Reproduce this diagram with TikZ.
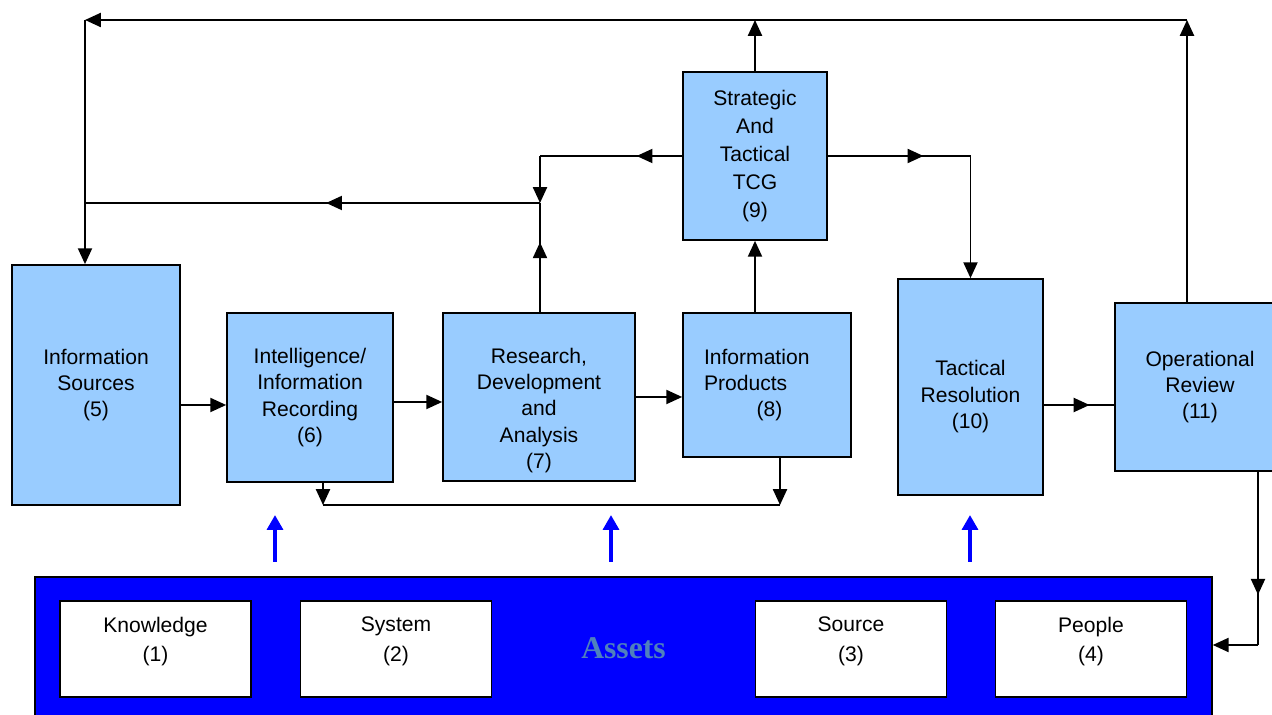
\documentclass[tikz,border=0pt]{standalone}
\usepackage{fontspec}
\setmainfont{Liberation Sans}
\newfontfamily\assetfont{Liberation Serif}
\usetikzlibrary{arrows.meta,decorations.markings}

\definecolor{boxblue}{RGB}{153,204,255}
\definecolor{assetblue}{RGB}{0,0,255}
\definecolor{assettext}{RGB}{79,129,189}

\newcommand{\assetlabel}[2]{\parbox[c][1.92cm][t]{3.8cm}{\centering\vspace*{9pt}#1\\[3pt](#2)}}

\tikzset{
  blk/.style={draw, line width=1pt, fill=boxblue, align=center, inner sep=2pt,
    font=\fontsize{12}{15}\selectfont},
  wbox/.style={draw, line width=1pt, fill=white, inner sep=0pt,
    minimum width=3.82cm, minimum height=1.92cm, font=\fontsize{12}{14}\selectfont},
  conn/.style={line width=1pt},
  arr/.style={line width=1pt, -{Triangle[length=9pt,width=8pt]}},
  mid arrow/.style={line width=1pt, postaction={decorate},
    decoration={markings, mark=at position #1 with {\arrow{Triangle[length=9pt,width=8pt]}}}},
  up arrow/.style={assetblue, line width=2.4pt, -{Triangle[length=8.5pt,width=9pt]}}
}

\begin{document}
\begin{tikzpicture}[x=0.02cm, y=-0.02cm]
  \useasboundingbox (0,0) rectangle (1272,715);

  % process boxes
  \node[blk, minimum width=3.36cm, minimum height=4.8cm] (src) at (96,385) {Information\\Sources\\(5)};
  \node[blk, minimum width=3.32cm, minimum height=3.38cm] (rec) at (310,397.5) {Intelligence/\\Information\\Recording\\(6)};
  \node[blk, minimum width=3.84cm, minimum height=3.36cm, text height=2.95cm] (rda) at (539,397) {Research,\\Development\\and\\Analysis\\(7)};
  \node[blk, minimum width=3.36cm, minimum height=2.88cm, align=left, text width=2.52cm] (prod) at (767,385) {Information\\Products\\\hspace*{1.05cm}(8)};
  \node[blk, minimum width=2.88cm, minimum height=3.36cm, font=\fontsize{12}{16}\selectfont] (tcg) at (755,156) {Strategic\\And\\Tactical\\TCG\\(9)};
  \node[blk, minimum width=2.9cm, minimum height=4.32cm, text height=1.75cm] (res) at (970.5,387) {Tactical\\Resolution\\(10)};
  \node[blk, minimum width=3.4cm, minimum height=3.36cm] (rev) at (1200,387) {Operational\\Review\\(11)};

  % assets bar
  \node[draw, line width=1pt, fill=assetblue, text=assettext, minimum width=23.54cm, minimum height=2.86cm,
    font=\assetfont\bfseries\fontsize{18}{20}\selectfont] (assets) at (623.5,648.5) {Assets};
  \node[wbox] (know) at (155.5,649) {\assetlabel{Knowledge}{1}};
  \node[wbox] (sys) at (396,649) {\assetlabel{System}{2}};
  \node[wbox] (srce) at (851,649) {\assetlabel{Source}{3}};
  \node[wbox] (ppl) at (1091,649) {\assetlabel{People}{4}};

  % corner points
  \coordinate (tr) at (1187,20);
  \coordinate (tl) at (85,20);
  \coordinate (ml) at (85,203);
  \coordinate (jn) at (540,203);
  \coordinate (bl) at (323,505);
  \coordinate (br) at (780,505);
  \coordinate (rc) at (1258,645);

  % top feedback loop
  \draw[arr] (rev.north -| tr) -- (tr);
  \draw[arr] (tr) -- (tl);
  \draw[arr] (tl) -- (tl |- src.north);
  \draw[arr] (tcg.north) -- (tcg.north |- tr);

  % inner feedback loop
  \draw[mid arrow=0.64] (rda.north -| jn) -- (jn);
  \draw[mid arrow=0.47] (jn) -- (ml);
  \draw[mid arrow=0.32] (tcg.west) -- (tcg.west -| jn);
  \draw[arr] (tcg.west -| jn) -- (jn);
  \draw[mid arrow=0.67] (tcg.east) -- (tcg.east -| res.north);
  \draw[arr] (tcg.east -| res.north) -- (res.north);
  \draw[arr] (prod.north -| tcg.south) -- (tcg.south);

  % main flow
  \draw[arr] (src.east |- 0,405) -- (rec.west |- 0,405);
  \draw[arr] (rec.east |- 0,402) -- (rda.west |- 0,402);
  \draw[arr] (rda.east) -- (prod.west |- rda.east);
  \draw[mid arrow=0.65] (res.east |- 0,405) -- (rev.west |- 0,405);

  % bottom link
  \draw[arr] (rec.south -| bl) -- (bl);
  \draw[conn] (bl) -- (br);
  \draw[arr] (prod.south -| br) -- (br);

  % review back to assets
  \draw[mid arrow=0.71] (rev.south -| rc) -- (rc);
  \draw[arr] (rc) -- (assets.east |- rc);

  % assets feeding up
  \foreach \x [count=\i] in {275,611,970} {
    \coordinate (f\i) at (\x,515);
    \draw[up arrow] ([yshift=-0.94cm]f\i) -- (f\i);
  }

\end{tikzpicture}
\end{document}
